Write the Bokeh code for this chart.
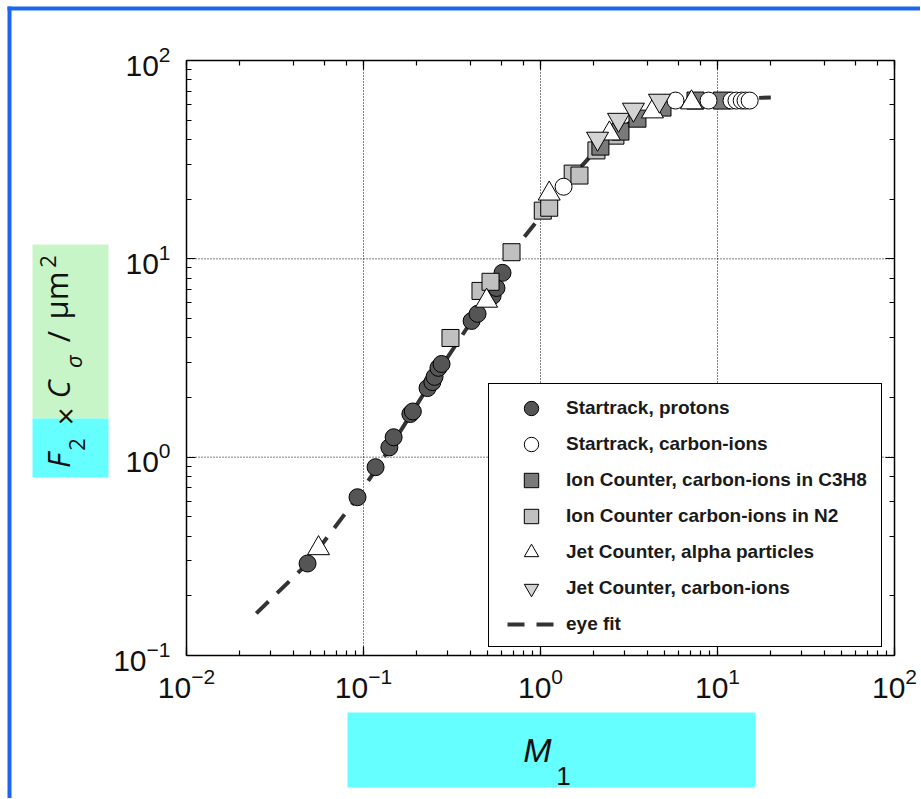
import numpy as np
from bokeh.plotting import figure
from bokeh.models import (LogAxis, Legend, LegendItem, Label, BoxAnnotation,
                          CustomJSTickFormatter)
from bokeh.embed import file_html
from bokeh.resources import INLINE

# ---------------- data ----------------
proton_x = [0.0483, 0.0925, 0.117, 0.140, 0.148, 0.184, 0.190, 0.230, 0.245, 0.252,
            0.265, 0.276, 0.408, 0.441, 0.536, 0.564, 0.610]
proton_y = [0.291, 0.628, 0.89, 1.12, 1.26, 1.65, 1.70, 2.23, 2.39, 2.54,
            2.82, 2.95, 4.86, 5.28, 6.5, 7.13, 8.5]

st_carbon_x = [1.35, 5.79, 8.9, 12.0, 12.8, 13.7, 14.4, 15.2]
st_carbon_y = [23.1, 62.8, 62.8, 62.8, 62.8, 62.8, 62.8, 62.8]

c3h8_x = [2.18, 2.83, 3.53, 4.89, 7.51, 10.6]
c3h8_y = [36.8, 43.8, 50.9, 57.9, 62.8, 62.8]

n2_x = [0.310, 0.458, 0.522, 0.686, 1.03, 1.12, 1.52, 1.66, 2.07, 2.65]
n2_y = [3.99, 6.89, 7.66, 10.8, 17.5, 18.1, 26.9, 26.3, 35.2, 41.8]

alpha_x = [0.0557, 0.496, 1.12, 2.45, 4.29, 7.13]
alpha_y = [0.347, 6.14, 21.3, 42.8, 55.3, 61.4]

jet_carbon_x = [2.10, 2.76, 3.35, 4.70]
jet_carbon_y = [40.4, 50.3, 56.6, 62.8]

fit_x = [0.0248, 0.0483, 0.0925, 0.140, 0.227, 0.408, 0.686, 1.12, 1.58, 2.10,
         2.83, 3.67, 4.76, 7.51, 11.8, 20.0]
fit_y = [0.163, 0.291, 0.628, 1.10, 2.20, 4.86, 10.7, 18.5, 27.2, 36.0,
         45.2, 52.7, 58.5, 62.8, 64.3, 65.0]

x_lim = (0.01, 100)
y_lim = (0.1, 100)
grid_x = [0.1, 1, 10]
grid_y = [1, 10]

legend_labels = ["Startrack, protons", "Startrack, carbon-ions",
                 "Ion Counter, carbon-ions in C3H8", "Ion Counter carbon-ions in N2",
                 "Jet Counter, alpha particles", "Jet Counter, carbon-ions", "eye fit"]

# ---------------- layout: frame covers the whole canvas ----------------
W, H = 920, 798
PL, PR, PT, PB = 186, 894, 60, 655          # plot box in canvas pixels
dx = (PR - PL) / 4.0                        # px per decade in x
dy = (PB - PT) / 3.0                        # px per decade in y
xr = (10 ** (np.log10(x_lim[0]) - PL / dx), 10 ** (np.log10(x_lim[1]) + (W - PR) / dx))
yr = (10 ** (np.log10(y_lim[0]) - (H - PB) / dy), 10 ** (np.log10(y_lim[1]) + PT / dy))

p = figure(width=W, height=H, x_axis_type="log", y_axis_type="log",
           x_range=xr, y_range=yr, output_backend="svg", toolbar_location=None,
           min_border=0, min_border_left=0, min_border_right=0,
           min_border_top=0, min_border_bottom=0)
p.background_fill_color = "white"
p.border_fill_color = "white"
p.outline_line_color = None
p.xgrid.visible = False
p.ygrid.visible = False

bottom_ax = p.below[0]
left_ax = p.left[0]
blank = CustomJSTickFormatter(code="return ''")
top_ax = LogAxis(formatter=blank)
right_ax = LogAxis(formatter=blank)
p.add_layout(top_ax, "above")
p.add_layout(right_ax, "right")

bottom_ax.fixed_location = y_lim[0]
top_ax.fixed_location = y_lim[1]
left_ax.fixed_location = x_lim[0]
right_ax.fixed_location = x_lim[1]
bottom_ax.bounds = x_lim
top_ax.bounds = x_lim
left_ax.bounds = y_lim
right_ax.bounds = y_lim

for ax in [bottom_ax, left_ax, top_ax, right_ax]:
    ax.major_tick_in = 9
    ax.major_tick_out = 0
    ax.minor_tick_in = 5
    ax.minor_tick_out = 0
    ax.axis_line_color = "black"
    ax.axis_line_width = 1.5
    ax.major_tick_line_color = "black"
    ax.major_tick_line_width = 1.2
    ax.minor_tick_line_color = "black"
    ax.minor_tick_line_width = 1.2
    ax.major_label_text_font = "Liberation Sans"
    ax.major_label_text_color = "#111111"
    ax.major_label_text_font_size = "30px"
for ax in [top_ax, right_ax]:
    ax.major_label_text_font_size = "8px"
    ax.major_label_standoff = 0
bottom_ax.major_label_standoff = 12
left_ax.major_label_standoff = 16

# ---------------- label backgrounds & blue frame ----------------
def box(l, r, t, b, color):
    p.add_layout(BoxAnnotation(left=l, right=r, top=H - t, bottom=H - b,
                               left_units="screen", right_units="screen",
                               top_units="screen", bottom_units="screen",
                               fill_color=color, fill_alpha=1, line_color=None,
                               level="underlay"))

box(32, 108, 244, 418, "#c8f5c8")
box(32, 108, 418, 477, "#66ffff")
box(347, 755, 712, 787, "#66ffff")
box(7, 11, 6, H, "#1a66f2")
box(7, W, 6, 10, "#1a66f2")

# ---------------- grid & glyphs ----------------
p.segment(x0=grid_x, y0=[y_lim[0]] * len(grid_x), x1=grid_x, y1=[y_lim[1]] * len(grid_x),
          line_color="black", line_width=1, line_dash="1 2", level="underlay")
p.segment(x0=[x_lim[0]] * len(grid_y), y0=grid_y, x1=[x_lim[1]] * len(grid_y), y1=grid_y,
          line_color="black", line_width=1, line_dash="1 2", level="underlay")

fit = p.line(fit_x, fit_y, line_color="#333333", line_width=4, line_dash="17 12")

r_prot = p.scatter(proton_x, proton_y, marker="circle", size=17,
                   fill_color="#555555", line_color="black", line_width=1)
r_n2 = p.scatter(n2_x, n2_y, marker="square", size=17,
                 fill_color="#c0c0c0", line_color="black", line_width=1)
r_c3 = p.scatter(c3h8_x, c3h8_y, marker="square", size=17,
                 fill_color="#7a7a7a", line_color="black", line_width=1)
r_stc = p.scatter(st_carbon_x, st_carbon_y, marker="circle", size=17,
                  fill_color="white", line_color="black", line_width=1)
r_alpha = p.scatter(alpha_x, alpha_y, marker="triangle", size=22,
                    fill_color="white", line_color="black", line_width=1)
r_jet = p.scatter(jet_carbon_x, jet_carbon_y, marker="inverted_triangle", size=22,
                  fill_color="#d3d3d3", line_color="black", line_width=1)

# ---------------- legend ----------------
rends = [r_prot, r_stc, r_c3, r_n2, r_alpha, r_jet, fit]
legend = Legend(items=[LegendItem(label=l, renderers=[r]) for l, r in zip(legend_labels, rends)],
                location=(488, H - 647), orientation="vertical",
                glyph_width=48, glyph_height=36, spacing=0,
                padding=dict(left=18, right=10, top=6, bottom=4),
                label_standoff=11, label_width=305, margin=0,
                border_line_color="black", border_line_width=1.5, border_line_alpha=1,
                background_fill_color="white", background_fill_alpha=1,
                label_text_font="Liberation Sans", label_text_font_style="bold",
                label_text_font_size="19px", label_text_color="#1a1a1a",
                level="underlay")
p.add_layout(legend)

# ---------------- axis titles (pieces centred on their positions) ----------------
def lab(text, x, y, size, style="normal", font="Open Sans", angle=0):
    p.add_layout(Label(x=x, y=H - y, x_units="screen", y_units="screen", text=text,
                       text_font=font, text_font_size=size, text_font_style=style,
                       text_color="#111111", angle=angle, angle_units="deg",
                       text_align="center", text_baseline="middle", level="overlay"))

lab("F", 57, 460, "31px", "italic", angle=90)
lab("2", 76, 444, "22px", angle=90)
lab("\u00d7", 64, 416, "31px", angle=90)
lab("C", 57, 389, "31px", "italic", angle=90)
lab("\u03c3", 72, 361, "22px", "italic", angle=90)
lab("/", 57, 336, "31px", angle=90)
lab("\u00b5m", 55, 295, "31px", angle=90)
lab("2", 47, 261, "22px", angle=90)

lab("M", 537, 749, "34px", "italic", font="Liberation Sans")
lab("1", 563, 775, "26px", font="Liberation Sans")

open("out.html", "w").write(file_html(p, INLINE))
